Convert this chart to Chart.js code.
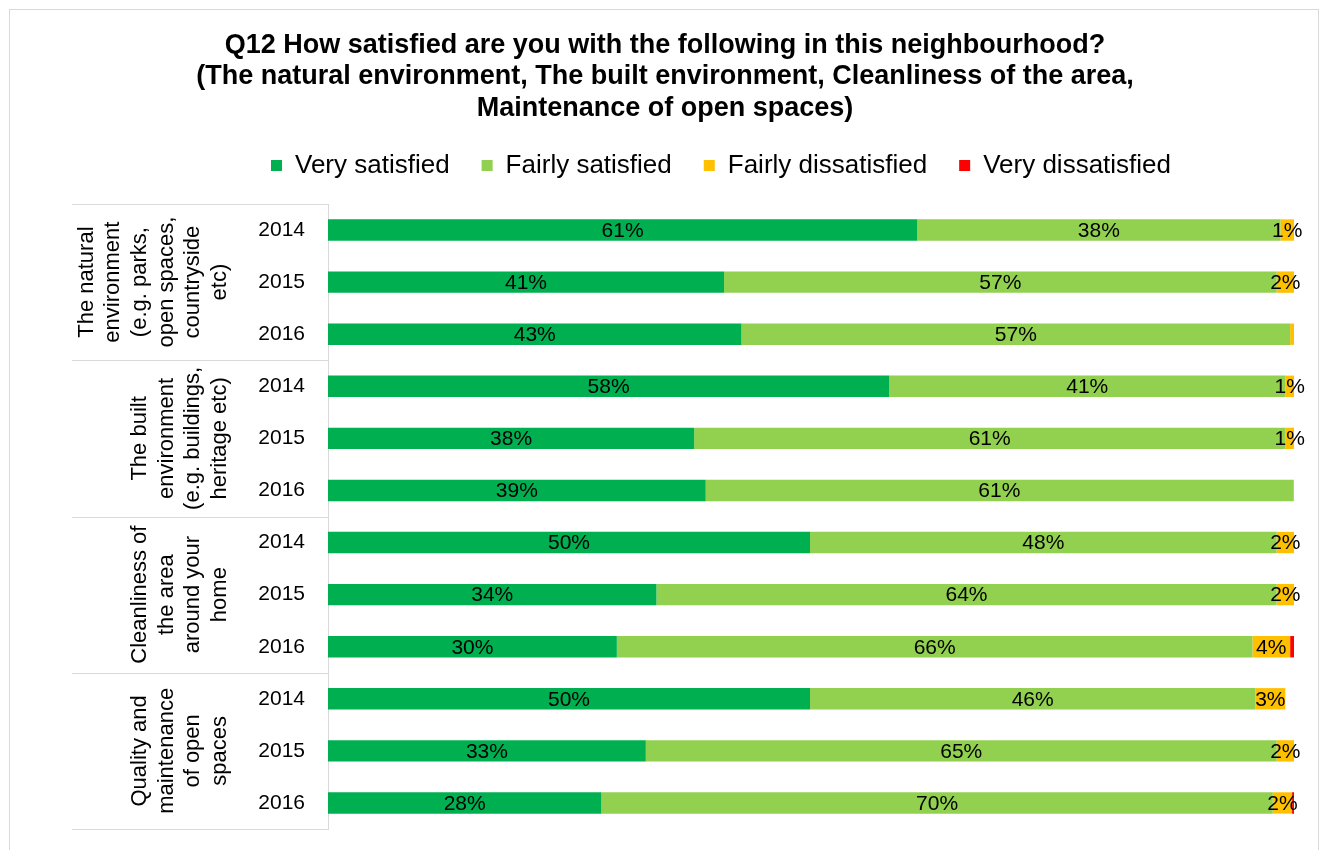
<!DOCTYPE html>
<html lang="en">
<head>
<meta charset="UTF-8">
<title>Q12 Neighbourhood satisfaction</title>
<script src="https://cdn.jsdelivr.net/npm/chart.js"></script>
<style>
  body { margin: 0; background: #fff; }
  #wrap { position: relative; width: 1327px; height: 850px; }
</style>
</head>
<body>
<div id="wrap"><canvas id="myChart"></canvas></div>
<script>
// grouped category labels (one group per topic, three survey years each)
const groups = [
  ['The natural', 'environment', '(e.g. parks,', 'open spaces,', 'countryside', 'etc)'],
  ['The built', 'environment', '(e.g. buildings,', 'heritage etc)'],
  ['Cleanliness of', 'the area', 'around your', 'home'],
  ['Quality and', 'maintenance', 'of open', 'spaces']
];
const years = ['2014', '2015', '2016'];

const seriesNames = ['Very satisfied', 'Fairly satisfied', 'Fairly dissatisfied', 'Very dissatisfied'];
const seriesColors = ['#00B050', '#92D050', '#FFC000', '#FF0000'];

// percentages (12 rows: 4 groups x 3 years)
const verySatisfied      = [61.0, 41.0, 42.8, 58.1, 37.9, 39.1, 49.9, 34.0, 29.9, 49.9, 32.9, 28.3];
const fairlySatisfied    = [37.6, 57.2, 56.8, 41.0, 61.2, 60.8, 48.3, 64.2, 65.8, 46.1, 65.3, 69.5];
const fairlyDissatisfied = [1.4, 1.8, 0.4, 0.9, 0.9, 0.1, 1.8, 1.8, 3.9, 3.1, 1.8, 2.0];
const veryDissatisfied   = [0, 0, 0, 0, 0, 0, 0, 0, 0.4, 0, 0, 0.2];

const titleLines = [
  'Q12 How satisfied are you with the following in this neighbourhood?',
  '(The natural environment, The built environment, Cleanliness of the area,',
  'Maintenance of open spaces)'
];

const FONT = '"Liberation Sans", Arial, sans-serif';
const labels = groups.flatMap(() => years);
const seriesData = [verySatisfied, fairlySatisfied, fairlyDissatisfied, veryDissatisfied];

// outer frame of the chart
const framePlugin = {
  id: 'frame',
  beforeDraw(chart) {
    const ctx = chart.ctx;
    ctx.save();
    ctx.fillStyle = '#fff';
    ctx.fillRect(0, 0, chart.width, chart.height);
    ctx.strokeStyle = '#d9d9d9';
    ctx.lineWidth = 1;
    ctx.strokeRect(9.5, 9.5, 1309, 900);
    ctx.restore();
  }
};

// title is centred on the whole frame, legend sits a bit right of centre
const headerShift = {
  id: 'headerShift',
  afterLayout(chart) {
    chart.titleBlock.left += 18;
    chart.titleBlock.right += 18;
    chart.legend.left += 74;
    chart.legend.right += 74;
  }
};

// percentage labels inside the segments
const valueLabels = {
  id: 'valueLabels',
  afterDatasetsDraw(chart) {
    const ctx = chart.ctx;
    ctx.save();
    ctx.font = '21px ' + FONT;
    ctx.fillStyle = '#000';
    ctx.textAlign = 'center';
    ctx.textBaseline = 'middle';
    [0, 1, 2].forEach(di => {
      const meta = chart.getDatasetMeta(di);
      meta.data.forEach((bar, i) => {
        const v = chart.data.datasets[di].data[i];
        if (Math.round(v) < 1) return;
        const p = bar.getProps(['x', 'y', 'base'], true);
        ctx.fillText(Math.round(v) + '%', (p.x + p.base) / 2, p.y + 1);
      });
    });
    ctx.restore();
  }
};

// group separators and rotated group names on the left
const groupAxis = {
  id: 'groupAxis',
  afterDraw(chart) {
    const ctx = chart.ctx;
    const y = chart.scales.y;
    const area = chart.chartArea;
    const n = years.length;
    ctx.save();
    ctx.strokeStyle = '#d9d9d9';
    ctx.lineWidth = 1;
    const edges = [area.top];
    for (let g = 1; g < groups.length; g++) {
      edges.push((y.getPixelForValue(g * n - 1) + y.getPixelForValue(g * n)) / 2);
    }
    edges.push(area.bottom);
    edges.forEach(e => {
      const yy = Math.round(e) + 0.5;
      ctx.beginPath();
      ctx.moveTo(72, yy);
      ctx.lineTo(area.left, yy);
      ctx.stroke();
    });

    ctx.fillStyle = '#000';
    ctx.font = '22px ' + FONT;
    ctx.textAlign = 'center';
    ctx.textBaseline = 'middle';
    const lh = 26.7;
    groups.forEach((lines, g) => {
      const cy = (edges[g] + edges[g + 1]) / 2;
      lines.forEach((line, i) => {
        const cx = 220 - (lines.length - 1 - i) * lh;
        ctx.save();
        ctx.translate(cx, cy);
        ctx.rotate(-Math.PI / 2);
        ctx.fillText(line, 0, 0);
        ctx.restore();
      });
    });
    ctx.restore();
  }
};

new Chart(document.getElementById('myChart'), {
  type: 'bar',
  data: {
    labels: labels,
    datasets: seriesNames.map((name, i) => ({
      label: name,
      data: seriesData[i],
      backgroundColor: seriesColors[i],
      borderWidth: 0,
      categoryPercentage: 1,
      barPercentage: 0.41
    }))
  },
  options: {
    indexAxis: 'y',
    responsive: true,
    maintainAspectRatio: false,
    animation: false,
    layout: { padding: { left: 0, right: 33, top: 0, bottom: 21 } },
    plugins: {
      title: {
        display: true,
        text: titleLines,
        color: '#000',
        font: { family: FONT, size: 27, weight: 'bold', lineHeight: 1.1667 },
        padding: { top: 29.5, bottom: -3.5 }
      },
      legend: {
        position: 'top',
        labels: {
          color: '#000',
          font: { family: FONT, size: 26 },
          boxWidth: 11,
          boxHeight: 11,
          padding: 32
        }
      },
      tooltip: { enabled: false }
    },
    scales: {
      x: {
        stacked: true,
        position: 'top',
        min: 0,
        max: 100,
        ticks: { display: false },
        grid: { display: false, drawTicks: true, tickLength: 15.5 },
        border: { display: false }
      },
      y: {
        stacked: true,
        ticks: { color: '#000', font: { family: FONT, size: 21 }, padding: 23 },
        grid: { display: false, drawTicks: false },
        border: { display: true, color: '#d9d9d9' },
        afterFit(scale) {
          scale.width = 328;
          scale.paddingTop = 0;
          scale.paddingBottom = 0;
        }
      }
    }
  },
  plugins: [framePlugin, headerShift, valueLabels, groupAxis]
});
</script>
</body>
</html>
